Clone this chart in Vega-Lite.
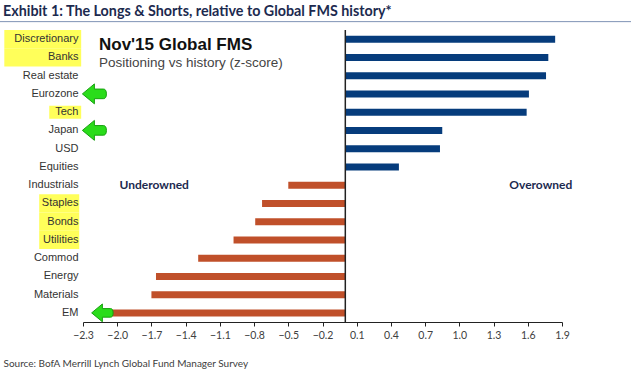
{
  "$schema": "https://vega.github.io/schema/vega-lite/v6.json",
  "width": 479,
  "height": 292,
  "autosize": {"type": "none"},
  "padding": {"left": 83, "top": 30, "right": 69, "bottom": 58},
  "background": "white",
  "config": {"view": {"stroke": null}, "font": "Liberation Sans", "axisX": {"labelOverlap": false, "labelFlush": false}},
  "title": {
    "text": "Exhibit 1: The Longs & Shorts, relative to Global FMS history*",
    "anchor": "start", "frame": "group", "dx": -80, "offset": -9.5, "baseline": "alphabetic",
    "font": "Lato", "fontSize": 14.3, "fontWeight": "bold", "color": "#1c2a4f"
  },
  "datasets": {
    "rows": [
      {"cat": "Discretionary", "value": 1.84, "hl": "a", "arrow": ""},
      {"cat": "Banks", "value": 1.78, "hl": "a", "arrow": ""},
      {"cat": "Real estate", "value": 1.76, "hl": "", "arrow": ""},
      {"cat": "Eurozone", "value": 1.61, "hl": "", "arrow": "a"},
      {"cat": "Tech", "value": 1.59, "hl": "b", "arrow": ""},
      {"cat": "Japan", "value": 0.85, "hl": "", "arrow": "a"},
      {"cat": "USD", "value": 0.83, "hl": "", "arrow": ""},
      {"cat": "Equities", "value": 0.47, "hl": "", "arrow": ""},
      {"cat": "Industrials", "value": -0.50, "hl": "", "arrow": ""},
      {"cat": "Staples", "value": -0.73, "hl": "c", "arrow": ""},
      {"cat": "Bonds", "value": -0.79, "hl": "c", "arrow": ""},
      {"cat": "Utilities", "value": -0.98, "hl": "c", "arrow": ""},
      {"cat": "Commod", "value": -1.29, "hl": "", "arrow": ""},
      {"cat": "Energy", "value": -1.66, "hl": "", "arrow": ""},
      {"cat": "Materials", "value": -1.70, "hl": "", "arrow": ""},
      {"cat": "EM", "value": -2.15, "hl": "", "arrow": "b"}
    ],
    "one": [{}]
  },
  "data": {"name": "rows"},
  "layer": [
    {
      "mark": {"type": "bar", "height": 7},
      "encoding": {
        "y": {
          "field": "cat", "type": "nominal",
          "scale": {
            "domain": ["Discretionary", "Banks", "Real estate", "Eurozone", "Tech", "Japan", "USD", "Equities", "Industrials", "Staples", "Bonds", "Utilities", "Commod", "Energy", "Materials", "EM"],
            "paddingInner": 0, "paddingOuter": 0
          },
          "axis": {
            "title": null, "ticks": false, "domain": false, "labelPadding": 5,
            "labelFontSize": 11, "labelColor": "#333333", "labelFont": "Liberation Sans", "zindex": 1
          }
        },
        "x": {
          "field": "value", "type": "quantitative",
          "scale": {"domain": [-2.3, 1.9], "nice": false, "zero": false},
          "axis": {
            "title": "Source: BofA Merrill Lynch Global Fund Manager Survey",
            "values": [-2.3, -2.0, -1.7, -1.4, -1.1, -0.8, -0.5, -0.2, 0.1, 0.4, 0.7, 1.0, 1.3, 1.6, 1.9],
            "tickCount": 30,
            "format": ".1f", "grid": false, "tickSize": 4, "tickColor": "#222222", "domainColor": "#222222",
            "labelOverlap": false, "labelFlush": false,
            "labelFontSize": 10.5, "labelFont": "Lato", "labelColor": "#404040", "labelPadding": 4,
            "titleX": -80, "titleY": 41, "titleAlign": "left", "titleBaseline": "middle", "titleAnchor": "start",
            "titleFontWeight": "normal", "titleFontSize": 10, "titleFont": "Lato", "titleColor": "#404040",
            "zindex": 1
          }
        },
        "color": {"condition": {"test": "datum.value > 0", "value": "#063c7c"}, "value": "#c0502a"}
      }
    },
    {
      "transform": [{"filter": "datum.hl == 'a'"}],
      "mark": {"type": "bar", "color": "#ffff5a"},
      "encoding": {
        "y": {"field": "cat", "type": "nominal"},
        "x": {"datum": -2.99}, "x2": {"datum": -2.316}
      }
    },
    {
      "transform": [{"filter": "datum.hl == 'b'"}],
      "mark": {"type": "bar", "color": "#ffff5a", "height": 13},
      "encoding": {
        "y": {"field": "cat", "type": "nominal"},
        "x": {"datum": -2.596}, "x2": {"datum": -2.316}
      }
    },
    {
      "transform": [{"filter": "datum.hl == 'c'"}],
      "mark": {"type": "bar", "color": "#ffff5a"},
      "encoding": {
        "y": {"field": "cat", "type": "nominal"},
        "x": {"datum": -2.684}, "x2": {"datum": -2.333}
      }
    },
    {
      "data": {"name": "one"},
      "mark": {"type": "rule", "color": "#222222", "strokeWidth": 1.5},
      "encoding": {"x": {"datum": 0}}
    },
    {
      "data": {"name": "one"},
      "mark": {"type": "rule", "color": "#7f93b5", "strokeWidth": 1, "yOffset": -17.5},
      "encoding": {"x": {"datum": -3.04}, "x2": {"datum": 2.51}, "y": {"datum": "Discretionary"}}
    },
    {
      "data": {"name": "one"},
      "mark": {"type": "text", "text": "Nov'15 Global FMS", "align": "left", "baseline": "middle", "dy": 6, "fontSize": 17, "fontWeight": "bold", "color": "#111111", "font": "Liberation Sans"},
      "encoding": {"x": {"datum": -2.16}, "y": {"datum": "Discretionary"}}
    },
    {
      "data": {"name": "one"},
      "mark": {"type": "text", "text": "Positioning vs history (z-score)", "align": "left", "baseline": "middle", "dy": 5.5, "fontSize": 13.5, "color": "#444444", "font": "Liberation Sans"},
      "encoding": {"x": {"datum": -2.16}, "y": {"datum": "Banks"}}
    },
    {
      "data": {"name": "one"},
      "mark": {"type": "text", "text": "Underowned", "align": "left", "baseline": "middle", "fontSize": 12, "fontWeight": "bold", "color": "#1c2a4f", "font": "Lato"},
      "encoding": {"x": {"datum": -1.98}, "y": {"datum": "Industrials"}}
    },
    {
      "data": {"name": "one"},
      "mark": {"type": "text", "text": "Overowned", "align": "right", "baseline": "middle", "fontSize": 12, "fontWeight": "bold", "color": "#1c2a4f", "font": "Lato"},
      "encoding": {"x": {"datum": 1.99}, "y": {"datum": "Industrials"}}
    },
    {
      "transform": [{"filter": "datum.arrow == 'a'"}],
      "mark": {"type": "point", "shape": "M -1 0 L 0 -0.83 L 0 -0.4 L 0.75 -0.4 Q 1 -0.4 1 0 Q 1 0.4 0.75 0.4 L 0 0.4 L 0 0.83 Z", "size": 576, "filled": true, "fill": "#2adc1a", "stroke": "#17a00f", "strokeWidth": 1, "opacity": 1},
      "encoding": {"x": {"datum": -2.2}, "y": {"field": "cat", "type": "nominal"}}
    },
    {
      "transform": [{"filter": "datum.arrow == 'b'"}],
      "mark": {"type": "point", "shape": "M -1 0 L 0 -0.83 L 0 -0.4 L 0.75 -0.4 Q 1 -0.4 1 0 Q 1 0.4 0.75 0.4 L 0 0.4 L 0 0.83 Z", "size": 460, "filled": true, "fill": "#2adc1a", "stroke": "#17a00f", "strokeWidth": 1, "opacity": 1},
      "encoding": {"x": {"datum": -2.13}, "y": {"field": "cat", "type": "nominal"}}
    }
  ]
}
